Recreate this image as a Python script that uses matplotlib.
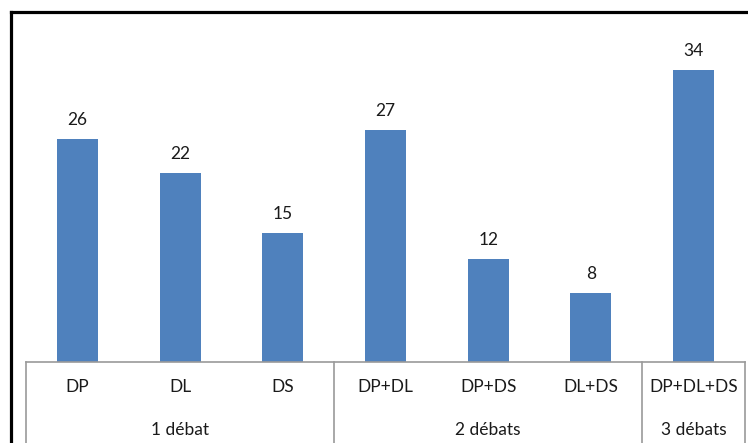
import matplotlib.pyplot as plt
from matplotlib.lines import Line2D

# Data
categories = ['DP', 'DL', 'DS', 'DP+DL', 'DP+DS', 'DL+DS', 'DP+DL+DS']
values = [26, 22, 15, 27, 12, 8, 34]
groups = ['1 débat', '2 débats', '3 débats']
group_sizes = [3, 3, 1]

plt.rcParams['font.family'] = ['Lato', 'DejaVu Sans']
FS = 12.5

fig = plt.figure(figsize=(7.48, 4.43), dpi=100)
ax = fig.add_axes([26 / 748, 81 / 443, 719 / 748, 343 / 443])

x = list(range(len(categories)))
bars = ax.bar(x, values, width=0.4, color='#4F81BD')

for b, v in zip(bars, values):
    ax.annotate(str(v), (b.get_x() + b.get_width() / 2, v),
                xytext=(0, 8), textcoords='offset points',
                ha='center', va='bottom', fontsize=FS, color='#1a1a1a')

ax.set_xlim(-0.5, len(categories) - 0.5)
ax.set_ylim(0, 40)
ax.set_yticks([])
ax.set_xticks([])
for s in ['top', 'right', 'left']:
    ax.spines[s].set_visible(False)
ax.spines['bottom'].set_color('#9A9A9A')
ax.spines['bottom'].set_linewidth(1.2)

trans = ax.get_xaxis_transform()

# category labels
for i, c in enumerate(categories):
    ax.text(i, -25 / 343, c, transform=trans, ha='center', va='center',
            fontsize=FS, color='#1a1a1a')

# group labels and separators
start = 0
bounds = [-0.5]
for g, n in zip(groups, group_sizes):
    mid = start + (n - 1) / 2
    ax.text(mid, -68 / 343, g, transform=trans, ha='center', va='center',
            fontsize=FS, color='#1a1a1a')
    start += n
    bounds.append(start - 0.5)

for bx in bounds:
    ax.add_line(Line2D([bx, bx], [0, -90 / 343], transform=trans,
                       color='#9A9A9A', lw=1.2, clip_on=False))

# outer chart frame (left and top visible)
fig.add_artist(Line2D([10.5 / 748, 10.5 / 748], [0, 1 - 12 / 443],
                      transform=fig.transFigure, color='black', lw=2.3))
fig.add_artist(Line2D([10.5 / 748, 1], [1 - 12 / 443, 1 - 12 / 443],
                      transform=fig.transFigure, color='black', lw=2.3))

fig.savefig('out.png', dpi=100)
